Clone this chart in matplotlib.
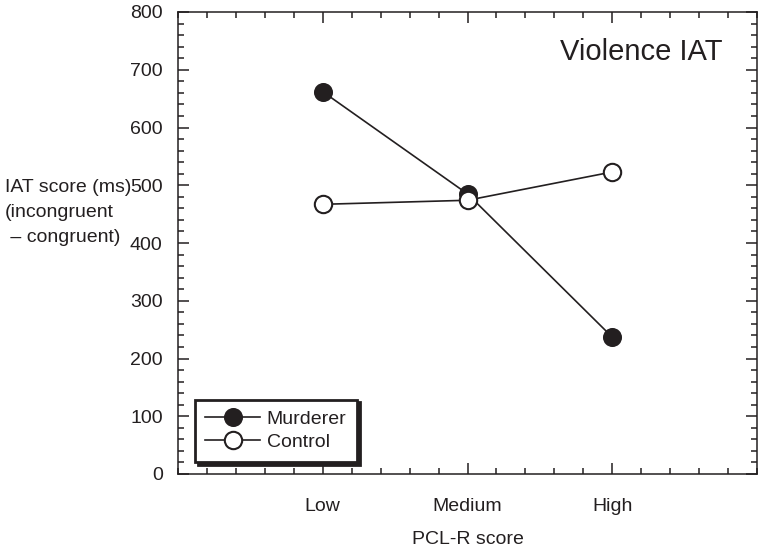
import matplotlib.pyplot as plt
from matplotlib.ticker import MultipleLocator

plt.rcParams['font.family'] = ['Liberation Sans', 'DejaVu Sans']

levels = ['Low', 'Medium', 'High']
xpos = [1, 2, 3]
murderer = [662, 485, 237]
control = [467, 474, 523]

ink = '#231f20'

fig = plt.figure(figsize=(7.58, 5.47), dpi=100)
ax = fig.add_axes([178 / 758, 73 / 547, 579 / 758, 462 / 547])

ax.plot(xpos, murderer, color=ink, lw=1.2, marker='o', ms=12.5,
        mfc=ink, mec=ink, mew=1.2, label='Murderer', zorder=3)
ax.plot(xpos, control, color=ink, lw=1.2, marker='o', ms=12.5,
        mfc='white', mec=ink, mew=1.5, label='Control', zorder=4)

ax.set_xlim(0, 4)
ax.set_ylim(0, 800)
ax.set_xticks(xpos)
ax.set_xticklabels(levels)
ax.xaxis.set_minor_locator(MultipleLocator(0.2))
ax.yaxis.set_major_locator(MultipleLocator(100))
ax.yaxis.set_minor_locator(MultipleLocator(20))

ax.tick_params(which='both', direction='in', top=True, right=True,
               color=ink, labelcolor=ink, width=1.1)
ax.tick_params(which='major', length=8, labelsize=14)
ax.tick_params(axis='y', which='major', pad=11)
ax.tick_params(axis='x', which='major', pad=17)
ax.tick_params(which='minor', length=4)
for s in ax.spines.values():
    s.set_color(ink)
    s.set_linewidth(1.1)

ax.set_xlabel('PCL-R score', fontsize=14, color=ink, labelpad=12)
fig.text(5 / 758, 1 - 179 / 547, 'IAT score (ms)\n(incongruent\n – congruent)',
         fontsize=14, color=ink, ha='left', va='top', linespacing=1.62)

ax.text(0.94, 0.913, 'Violence IAT', transform=ax.transAxes, fontsize=21,
        color=ink, ha='right', va='center')

leg = ax.legend(loc='lower left', bbox_to_anchor=(0.029, 0.026), fontsize=14,
                borderaxespad=0, handlelength=2.8, handletextpad=0.35,
                borderpad=0.55, labelspacing=0.3, fancybox=False,
                frameon=True, shadow={'color': ink, 'alpha': 1})
leg.get_frame().set_edgecolor(ink)
leg.get_frame().set_linewidth(2.0)
for t in leg.get_texts():
    t.set_color(ink)

fig.savefig('out.png', dpi=100)
